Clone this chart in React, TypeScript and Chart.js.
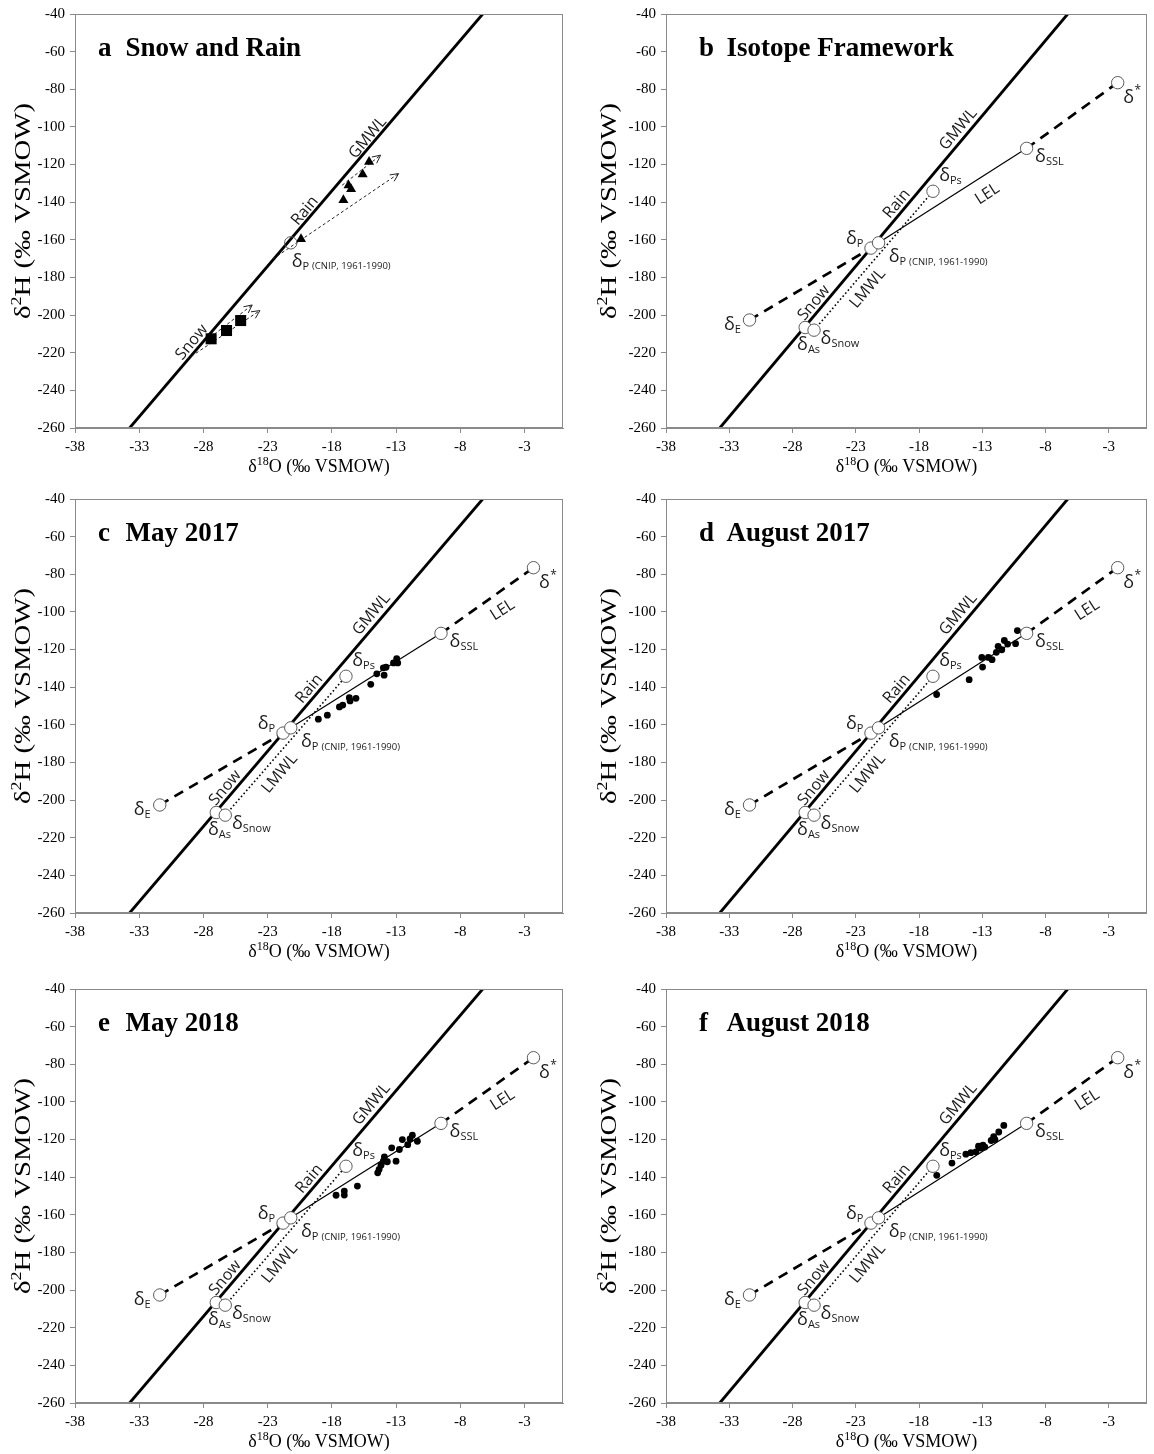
import React, { useEffect, useRef } from "react";
import { Chart, registerables } from "chart.js";

Chart.register(...registerables);

type Pt = [number, number];

// ---------- axes ----------
const xTickValues = [-38, -33, -28, -23, -18, -13, -8, -3];
const yTickValues = [-40, -60, -80, -100, -120, -140, -160, -180, -200, -220, -240, -260];
const xMin = -38;
const xMax = 0;
const yMin = -260;
const yMax = -40;

// ---------- lines ----------
// Global Meteoric Water Line end points (within the plot)
const gmwlLine: Pt[] = [[-33.75, -260], [-6.25, -40]];

// ---------- panel a: snow and rain ----------
const rainTriangles: Pt[] = [[-20.4, -159.6], [-17.1, -138.9], [-16.7, -131.0], [-16.5, -133.1], [-15.6, -125.2], [-15.1, -118.6]];
const snowSquares: Pt[] = [[-27.4, -212.6], [-26.2, -208.2], [-25.1, -202.9]];
const rainArrowLong: Pt[] = [[-22.6, -170.2], [-12.8, -124.8]];
const rainArrowShort: Pt[] = [[-17.2, -131.0], [-14.2, -115.0]];
const snowArrowLower: Pt[] = [[-29.3, -223.5], [-23.6, -197.6]];
const snowArrowUpper: Pt[] = [[-27.5, -212.0], [-24.2, -194.6]];

// ---------- isotope framework points ----------
const deltaStar: Pt = [-2.3, -76.5];
const deltaSSL: Pt = [-9.5, -111.4];
const deltaPs: Pt = [-16.9, -134.2];
const deltaP: Pt = [-21.8, -164.4];
const deltaPCNIP: Pt = [-21.2, -161.6];
const deltaE: Pt = [-31.4, -202.6];
const deltaAs: Pt = [-27.0, -206.6];
const deltaSnow: Pt = [-26.3, -208.0];

// ---------- lake samples ----------
const samplesMay2017: Pt[] = [
  [-19.05, -157.0], [-18.35, -154.9], [-17.41, -150.5], [-17.15, -149.5], [-16.64, -145.6],
  [-16.58, -147.3], [-16.12, -145.9], [-14.97, -138.5], [-14.5, -132.9], [-13.99, -129.7],
  [-13.93, -133.6], [-13.78, -129.4], [-13.2, -127.1], [-12.95, -124.8], [-12.87, -127.1],
];
const samplesAug2017: Pt[] = [
  [-16.61, -143.9], [-14.04, -136.0], [-13.04, -124.2], [-12.98, -129.3], [-12.52, -124.2],
  [-12.23, -125.4], [-11.89, -121.5], [-11.75, -118.3], [-11.46, -120.1], [-11.26, -115.2],
  [-11.0, -117.1], [-10.37, -116.9], [-10.23, -109.9], [-9.74, -111.0], [-9.37, -111.4],
];
const samplesMay2018: Pt[] = [
  [-17.67, -149.6], [-17.03, -147.4], [-17.03, -149.5], [-16.01, -144.7], [-14.43, -137.7],
  [-14.32, -135.9], [-14.17, -133.6], [-13.99, -131.5], [-13.91, -129.2], [-13.68, -131.8],
  [-13.34, -124.4], [-13.0, -131.5], [-12.74, -125.3], [-12.51, -120.0], [-12.09, -122.7],
  [-11.91, -119.7], [-11.73, -117.7], [-11.34, -120.9],
];
const samplesAug2018: Pt[] = [
  [-16.6, -139.0], [-15.4, -132.5], [-14.3, -127.8], [-13.9, -127.0], [-13.5, -126.5],
  [-13.3, -123.5], [-13.1, -124.5], [-12.95, -123.0], [-12.8, -124.0], [-12.3, -120.5],
  [-12.1, -118.5], [-12.0, -120.0], [-11.7, -116.0], [-11.3, -112.5],
];

// ---------- text ----------
const SANS = '"Open Sans", "Noto Sans", sans-serif';
const SERIF = '"Liberation Serif", "Times New Roman", serif';

type RotLabel = { text: string; at: Pt; angle: number };
type DeltaLabel = { sub?: string; sub2?: string; sup?: string; at: Pt };

const panelALabels: RotLabel[] = [
  { text: "GMWL", at: [-15.2, -105.7], angle: -50 },
  { text: "Rain", at: [-20.1, -144.6], angle: -50 },
  { text: "Snow", at: [-28.9, -214.4], angle: -50 },
];
const panelADeltas: DeltaLabel[] = [{ sub: "P", sub2: "(CNIP, 1961-1990)", at: [-21.13, -171.6] }];

const frameworkLabels: RotLabel[] = [
  { text: "GMWL", at: [-14.9, -101.2], angle: -50 },
  { text: "Rain", at: [-19.76, -140.9], angle: -50 },
  { text: "Snow", at: [-26.3, -193.5], angle: -50 },
  { text: "LMWL", at: [-22.05, -185.9], angle: -50 },
];
const lelLabelB: RotLabel = { text: "LEL", at: [-12.6, -135.6], angle: -33 };
const lelLabelCF: RotLabel = { text: "LEL", at: [-4.7, -99.0], angle: -33 };
const frameworkDeltas: DeltaLabel[] = [
  { sup: "*", at: [-1.87, -84.5] },
  { sub: "SSL", at: [-8.83, -115.7] },
  { sub: "Ps", at: [-16.41, -125.9] },
  { sub: "P", at: [-23.77, -159.4] },
  { sub: "P", sub2: "(CNIP, 1961-1990)", at: [-20.4, -169.1] },
  { sub: "E", at: [-33.42, -205.0] },
  { sub: "As", at: [-27.64, -215.9] },
  { sub: "Snow", at: [-25.78, -212.4] },
];

type PanelCfg = {
  letter: string;
  title: string;
  col: number;
  row: number;
  kind: "a" | "fw";
  samples?: Pt[];
  lel?: RotLabel;
};

const panels: PanelCfg[] = [
  { letter: "a", title: "Snow and Rain", col: 0, row: 0, kind: "a" },
  { letter: "b", title: "Isotope Framework", col: 1, row: 0, kind: "fw", lel: lelLabelB },
  { letter: "c", title: "May 2017", col: 0, row: 1, kind: "fw", samples: samplesMay2017, lel: lelLabelCF },
  { letter: "d", title: "August 2017", col: 1, row: 1, kind: "fw", samples: samplesAug2017, lel: lelLabelCF },
  { letter: "e", title: "May 2018", col: 0, row: 2, kind: "fw", samples: samplesMay2018, lel: lelLabelCF },
  { letter: "f", title: "August 2018", col: 1, row: 2, kind: "fw", samples: samplesAug2018, lel: lelLabelCF },
];

const CW = 577;
const CH = 479;
const rowTops = [0, 485, 975];

const toXY = (pts: Pt[]) => pts.map(([x, y]) => ({ x, y }));

function lineDs(pts: Pt[], width: number, dash: number[], order: number, extra: any = {}) {
  return {
    data: toXY(pts),
    showLine: true,
    borderColor: "#000",
    borderWidth: width,
    borderDash: dash,
    pointRadius: 0,
    pointHoverRadius: 0,
    pointHitRadius: 0,
    fill: false,
    tension: 0,
    order,
    ...extra,
  };
}

function buildDatasets(cfg: PanelCfg) {
  const ds: any[] = [];
  if (cfg.kind === "a") {
    ds.push(lineDs(gmwlLine, 2.8, [], 6));
    [rainArrowLong, rainArrowShort, snowArrowLower, snowArrowUpper].forEach((a) =>
      ds.push(lineDs(a, 1, [3, 2.5], 5, { arrow: true, borderColor: "#222" }))
    );
    ds.push({ data: toXY(rainTriangles), pointStyle: "triangle", pointRadius: 5.8, backgroundColor: "#000", borderColor: "#000", borderWidth: 0, order: 3 });
    ds.push({ data: toXY(snowSquares), pointStyle: "rect", pointRadius: 7.8, backgroundColor: "#000", borderColor: "#000", borderWidth: 0, order: 3 });
    ds.push({ data: toXY([deltaPCNIP]), pointStyle: "circle", pointRadius: 6.2, backgroundColor: "rgba(255,255,255,0)", borderColor: "#5a5a5a", borderWidth: 1, order: 1 });
  } else {
    ds.push(lineDs([deltaSnow, deltaPs], 1.6, [1.6, 2.4], 7));
    ds.push(lineDs([deltaPCNIP, deltaSSL], 1.2, [], 7));
    ds.push(lineDs([deltaE, deltaP], 2.7, [10, 7], 7));
    ds.push(lineDs([deltaSSL, deltaStar], 2.7, [10, 7], 7));
    ds.push(lineDs(gmwlLine, 2.8, [], 6));
    if (cfg.samples) {
      ds.push({ data: toXY(cfg.samples), pointStyle: "circle", pointRadius: 3.4, backgroundColor: "#000", borderColor: "#000", borderWidth: 0, order: 3 });
    }
    ds.push({
      data: toXY([deltaStar, deltaSSL, deltaPs, deltaP, deltaPCNIP, deltaE, deltaAs, deltaSnow]),
      pointStyle: "circle",
      pointRadius: 6.2,
      backgroundColor: "#fff",
      borderColor: "#5a5a5a",
      borderWidth: 1,
      order: 1,
    });
  }
  return ds;
}

function drawPieces(ctx: CanvasRenderingContext2D, pieces: [string, number, number][], cx: number, baseY: number) {
  let total = 0;
  const widths = pieces.map(([t, size]) => {
    ctx.font = `${size}px ${SERIF}`;
    const w = ctx.measureText(t).width;
    total += w;
    return w;
  });
  let x = cx - total / 2;
  ctx.textAlign = "left";
  ctx.textBaseline = "alphabetic";
  pieces.forEach(([t, size, dy], i) => {
    ctx.font = `${size}px ${SERIF}`;
    ctx.fillText(t, x, baseY + dy);
    x += widths[i];
  });
}

function makeDecorPlugin(cfg: PanelCfg) {
  return {
    id: "decor" + cfg.letter,
    afterDatasetsDraw(chart: any) {
      const { ctx, chartArea: ca, scales } = chart;
      const sx = (v: number) => scales.x.getPixelForValue(v);
      const sy = (v: number) => scales.y.getPixelForValue(v);
      ctx.save();

      // arrow heads
      chart.data.datasets.forEach((d: any, i: number) => {
        if (!d.arrow) return;
        const pts = chart.getDatasetMeta(i).data;
        const a = pts[pts.length - 2];
        const b = pts[pts.length - 1];
        const ang = Math.atan2(b.y - a.y, b.x - a.x);
        const L = 9;
        ctx.strokeStyle = "#222";
        ctx.lineWidth = 1;
        ctx.setLineDash([]);
        ctx.beginPath();
        ctx.moveTo(b.x - L * Math.cos(ang - 0.45), b.y - L * Math.sin(ang - 0.45));
        ctx.lineTo(b.x, b.y);
        ctx.lineTo(b.x - L * Math.cos(ang + 0.45), b.y - L * Math.sin(ang + 0.45));
        ctx.stroke();
      });

      // frame
      ctx.strokeStyle = "#8a8a8a";
      ctx.lineWidth = 1;
      ctx.setLineDash([]);
      ctx.strokeRect(Math.round(ca.left) + 0.5, Math.round(ca.top) + 0.5, Math.round(ca.right - ca.left) - 1, Math.round(ca.bottom - ca.top) - 1);

      // rotated labels
      const rot: RotLabel[] = cfg.kind === "a" ? panelALabels : [...frameworkLabels, cfg.lel!];
      ctx.fillStyle = "#1a1a1a";
      rot.forEach((l) => {
        ctx.save();
        ctx.translate(sx(l.at[0]), sy(l.at[1]));
        ctx.rotate((l.angle * Math.PI) / 180);
        ctx.font = `16px ${SANS}`;
        ctx.textAlign = "center";
        ctx.textBaseline = "middle";
        ctx.fillText(l.text, 0, 0);
        ctx.restore();
      });

      // delta labels
      const deltas = cfg.kind === "a" ? panelADeltas : frameworkDeltas;
      deltas.forEach((d) => {
        const px = sx(d.at[0]);
        const py = sy(d.at[1]);
        ctx.textAlign = "left";
        ctx.textBaseline = "middle";
        ctx.font = `18px ${SANS}`;
        ctx.fillText("δ", px, py);
        const w = ctx.measureText("δ").width;
        if (d.sup) {
          ctx.font = `12px ${SANS}`;
          ctx.fillText(d.sup, px + w + 0.5, py - 7);
        }
        if (d.sub) {
          ctx.font = `11px ${SANS}`;
          ctx.fillText(d.sub, px + w, py + 5);
          const w2 = ctx.measureText(d.sub).width;
          if (d.sub2) {
            ctx.font = `9.5px ${SANS}`;
            ctx.fillText(d.sub2, px + w + w2 + 3, py + 5);
          }
        }
      });

      // panel title
      ctx.fillStyle = "#000";
      ctx.textAlign = "left";
      ctx.textBaseline = "alphabetic";
      ctx.font = `bold 27px ${SERIF}`;
      const tx = ca.left + (cfg.col === 0 ? 23 : 33);
      const ty = ca.top + 42;
      ctx.fillText(cfg.letter, tx, ty);
      ctx.fillText(cfg.title, tx + 27.5, ty);

      // x-axis title
      ctx.fillStyle = "#000";
      drawPieces(ctx, [["δ", 18, 0], ["18", 12, -7], ["O (‰ VSMOW)", 18, 0]], (ca.left + ca.right) / 2, ca.bottom + 44);

      // y-axis title (rotated)
      ctx.save();
      const ycx = ca.left - (cfg.col === 0 ? 53 : 58);
      const ycy = (ca.top + ca.bottom) / 2 - 10;
      ctx.translate(ycx, ycy);
      ctx.rotate(-Math.PI / 2);
      ctx.scale(1.2, 1);
      drawPieces(ctx, [["δ", 24, 0], ["2", 15, -9], ["H (‰ VSMOW)", 24, 0]], 0, 8);
      ctx.restore();

      ctx.restore();
    },
  };
}

function Panel({ cfg }: { cfg: PanelCfg }) {
  const ref = useRef<HTMLCanvasElement>(null);
  useEffect(() => {
    if (!ref.current) return;
    const tickFont = { family: SERIF, size: 15 };
    const chart = new Chart(ref.current, {
      type: "scatter",
      data: { datasets: buildDatasets(cfg) },
      options: {
        animation: false,
        responsive: false,
        devicePixelRatio: 1,
        events: [],
        layout: { padding: { left: cfg.col === 0 ? 0 : 14, right: cfg.col === 0 ? 14 : 1, top: 12, bottom: 0 } },
        plugins: { legend: { display: false }, tooltip: { enabled: false }, title: { display: false } },
        scales: {
          x: {
            type: "linear",
            position: "bottom",
            min: xMin,
            max: xMax,
            afterBuildTicks: (s: any) => {
              s.ticks = xTickValues.map((v) => ({ value: v }));
            },
            afterFit: (s: any) => {
              s.height = 51;
            },
            ticks: { font: tickFont, color: "#000", padding: 5, maxRotation: 0, autoSkip: false, callback: (v: any) => String(v) },
            grid: { display: true, drawOnChartArea: false, drawTicks: true, tickLength: 5, color: "#8a8a8a", tickColor: "#8a8a8a" },
            border: { display: true, color: "#8a8a8a", width: 1 },
          },
          y: {
            type: "linear",
            position: "left",
            min: yMin,
            max: yMax,
            afterBuildTicks: (s: any) => {
              s.ticks = yTickValues.map((v) => ({ value: v }));
            },
            afterFit: (s: any) => {
              s.width = 75;
            },
            ticks: { font: tickFont, color: "#000", padding: 5, autoSkip: false, callback: (v: any) => String(v) },
            grid: { display: true, drawOnChartArea: false, drawTicks: true, tickLength: 5, color: "#8a8a8a", tickColor: "#8a8a8a" },
            border: { display: true, color: "#8a8a8a", width: 1 },
          },
        },
      } as any,
      plugins: [makeDecorPlugin(cfg)],
    });
    return () => chart.destroy();
  }, []);
  return (
    <canvas
      ref={ref}
      width={CW}
      height={CH}
      style={{ position: "absolute", left: cfg.col * CW, top: rowTops[cfg.row], width: CW, height: CH }}
    />
  );
}

export default function App() {
  return (
    <div style={{ position: "absolute", left: 0, top: 0, width: 1154, height: 1454, background: "#fff", overflow: "hidden" }}>
      {panels.map((p) => (
        <Panel key={p.letter} cfg={p} />
      ))}
    </div>
  );
}
